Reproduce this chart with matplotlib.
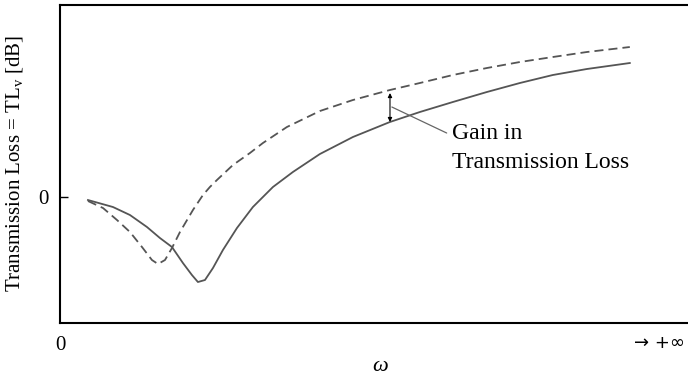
import matplotlib
matplotlib.use("Agg")
import matplotlib.pyplot as plt

plt.rcParams['font.family'] = ['Liberation Serif', 'DejaVu Serif']
plt.rcParams['mathtext.fontset'] = 'custom'
plt.rcParams['mathtext.rm'] = 'Liberation Serif'
plt.rcParams['mathtext.it'] = 'Liberation Serif:italic'

# Solid curve (original system)
solid_w = [0.444, 0.841, 1.111, 1.381, 1.587, 1.778, 1.952, 2.095, 2.190, 2.302,
           2.429, 2.587, 2.810, 3.063, 3.381, 3.698, 4.127, 4.651, 5.238, 5.714,
           6.238, 6.778, 7.302, 7.825, 8.365, 9.048]
solid_tl = [-0.3, -1.0, -1.8, -3.0, -4.1, -5.0, -6.6, -7.8, -8.5, -8.3,
            -7.1, -5.3, -3.1, -1.0, 1.0, 2.5, 4.3, 6.0, 7.5, 8.5,
            9.5, 10.5, 11.4, 12.2, 12.8, 13.4]

# Dashed curve (improved system)
dash_w = [0.444, 0.683, 0.905, 1.111, 1.302, 1.460, 1.556, 1.667, 1.778, 1.905,
          2.111, 2.270, 2.380, 2.492, 2.746, 3.016, 3.222, 3.603, 4.127, 4.651,
          5.238, 5.714, 6.238, 6.778, 7.302, 7.825, 8.365, 9.048]
dash_tl = [-0.4, -1.1, -2.3, -3.5, -5.0, -6.3, -6.7, -6.3, -5.1, -3.5,
           -1.3, 0.2, 1.0, 1.7, 3.2, 4.4, 5.4, 7.0, 8.6, 9.7,
           10.7, 11.4, 12.2, 12.9, 13.5, 14.0, 14.5, 15.0]

gain_w = 5.24
gain_top = 10.4
gain_bottom = 7.5

fig = plt.figure(figsize=(6.88, 3.77), dpi=100)
ax = fig.add_axes([0.0872, 0.1432, 0.930, 0.8435])

ax.plot(solid_w, solid_tl, color='#555555', lw=1.3, solid_joinstyle='round')
ax.plot(dash_w, dash_tl, color='#555555', lw=1.3, dashes=(5, 2.8),
        dash_joinstyle='round')

ax.annotate('', xy=(gain_w, gain_top), xytext=(gain_w, gain_bottom),
            arrowprops=dict(arrowstyle='<|-|>', color='black', lw=0.8,
                            mutation_scale=6, shrinkA=0, shrinkB=0))
ax.annotate('', xy=(gain_w + 0.03, 9.0), xytext=(6.14, 6.4),
            arrowprops=dict(arrowstyle='-', color='#666666', lw=0.9,
                            shrinkA=0, shrinkB=0))
ax.text(6.22, 4.9, 'Gain in\nTransmission Loss', fontsize=17, color='black',
        ha='left', va='center', linespacing=1.45, transform=ax.transData)

ax.set_xlim(0, 10.16)
ax.set_ylim(-12.6, 19.2)

ax.set_xticks([0])
ax.set_xticklabels(['0'])
ax.tick_params(axis='x', length=0, pad=9, labelsize=15)
ax.text(9.52, -14.6, '→ +∞', fontsize=13, family=['DejaVu Sans'],
        ha='center', va='center', clip_on=False)
ax.set_yticks([0])
ax.set_yticklabels(['0'])
ax.tick_params(axis='y', direction='in', length=6, width=1, pad=8, labelsize=15)

ax.set_xlabel(r'$\omega$', fontsize=16, labelpad=2)
ax.set_ylabel(r'Transmission Loss = TL$_\mathrm{v}$ [dB]', fontsize=15,
              labelpad=10)

for s in ['left', 'bottom', 'top', 'right']:
    ax.spines[s].set_linewidth(1.5)
    ax.spines[s].set_color('black')

fig.savefig('out.png', dpi=100)
